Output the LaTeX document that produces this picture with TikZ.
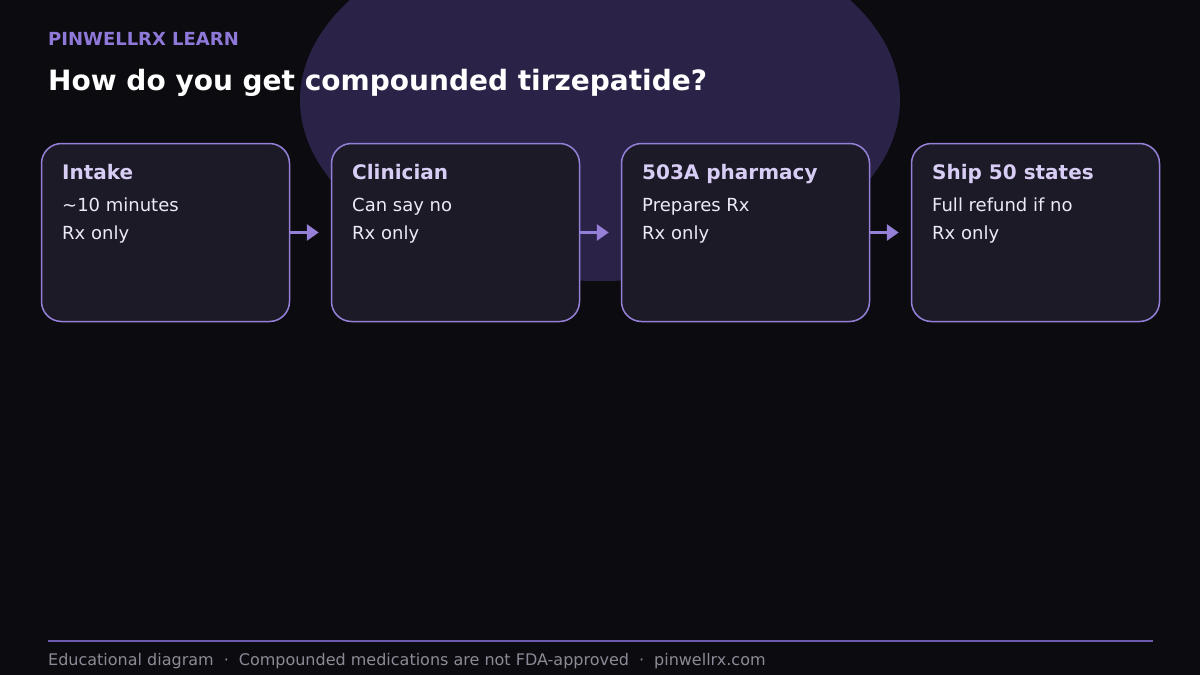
\documentclass[tikz,border=0pt]{standalone}
\usepackage{fontspec}
\setmainfont{DejaVu Sans}
\usetikzlibrary{arrows.meta}

\definecolor{pagebg}{HTML}{0C0B10}
\definecolor{glow}{HTML}{2A2347}
\definecolor{cardfill}{HTML}{1C1A26}
\definecolor{cardline}{HTML}{9580D8}
\definecolor{kicker}{HTML}{8E78D8}
\definecolor{headtext}{HTML}{D8CDF5}
\definecolor{bodytext}{HTML}{ECEAF4}
\definecolor{rulecol}{HTML}{6C5AAE}
\definecolor{foottext}{HTML}{8C8A96}

\tikzset{
  stepcard/.style={draw=cardline, line width=1.5pt, fill=cardfill, rounded corners=20pt,
    minimum width=248pt, minimum height=178pt, inner sep=0pt, anchor=north west},
  cardhead/.style={anchor=base west, inner sep=0pt, text=headtext, font=\fontsize{20}{24}\selectfont\bfseries},
  cardbody/.style={anchor=base west, inner sep=0pt, text=bodytext, font=\fontsize{18}{22}\selectfont},
  flow/.style={draw=cardline, line width=3.5pt, -{Triangle[length=12pt,width=16pt]}, shorten >=12pt},
}

\begin{document}
\begin{tikzpicture}[x=1pt, y=-1pt]
% page and glow
\useasboundingbox (0,0) rectangle (1200,675);
\clip (0,0) rectangle (1200,675);
\fill[pagebg] (0,0) rectangle (1200,675);
\fill[glow] (600,100) ellipse [x radius=300, y radius=181];

% heading
\node[anchor=base west, inner sep=0pt, text=kicker, font=\fontsize{18}{22}\selectfont\bfseries] (brand) at (48,45) {PINWELLRX LEARN};
\node[anchor=base west, inner sep=0pt, text=white, font=\fontsize{28}{34}\selectfont\bfseries] (title) at (48,90) {How do you get compounded tirzepatide?};

% steps
\node[stepcard] (intake) at (40.75,142.75) {};
\node[cardhead] (intakehead) at (62,179) {Intake};
\node[cardbody] (intakea) at (62,211) {\char"007E 10 minutes};
\node[cardbody] (intakeb) at (62,239) {Rx only};

\node[stepcard] (clinician) at (330.75,142.75) {};
\node[cardhead] (clinicianhead) at (352,179) {Clinician};
\node[cardbody] (cliniciana) at (352,211) {Can say no};
\node[cardbody] (clinicianb) at (352,239) {Rx only};

\node[stepcard] (pharmacy) at (620.75,142.75) {};
\node[cardhead] (pharmacyhead) at (642,179) {503A pharmacy};
\node[cardbody] (pharmacya) at (642,211) {Prepares Rx};
\node[cardbody] (pharmacyb) at (642,239) {Rx only};

\node[stepcard] (shipping) at (910.75,142.75) {};
\node[cardhead] (shippinghead) at (932,179) {Ship 50 states};
\node[cardbody] (shippinga) at (932,211) {Full refund if no};
\node[cardbody] (shippingb) at (932,239) {Rx only};

% arrows between steps
\draw[flow] (intake) -- (clinician);
\draw[flow] (clinician) -- (pharmacy);
\draw[flow] (pharmacy) -- (shipping);

% footer
\draw[rulecol, line width=2.7pt] (48,641) -- (1153,641);
\node[anchor=base west, inner sep=0pt, text=foottext, font=\fontsize{16}{20}\selectfont] (footer) at (48,665)
  {Educational diagram\hspace{10pt}·\hspace{10pt}Compounded medications are not FDA-approved\hspace{10pt}·\hspace{10pt}pinwellrx.com};
\end{tikzpicture}
\end{document}
